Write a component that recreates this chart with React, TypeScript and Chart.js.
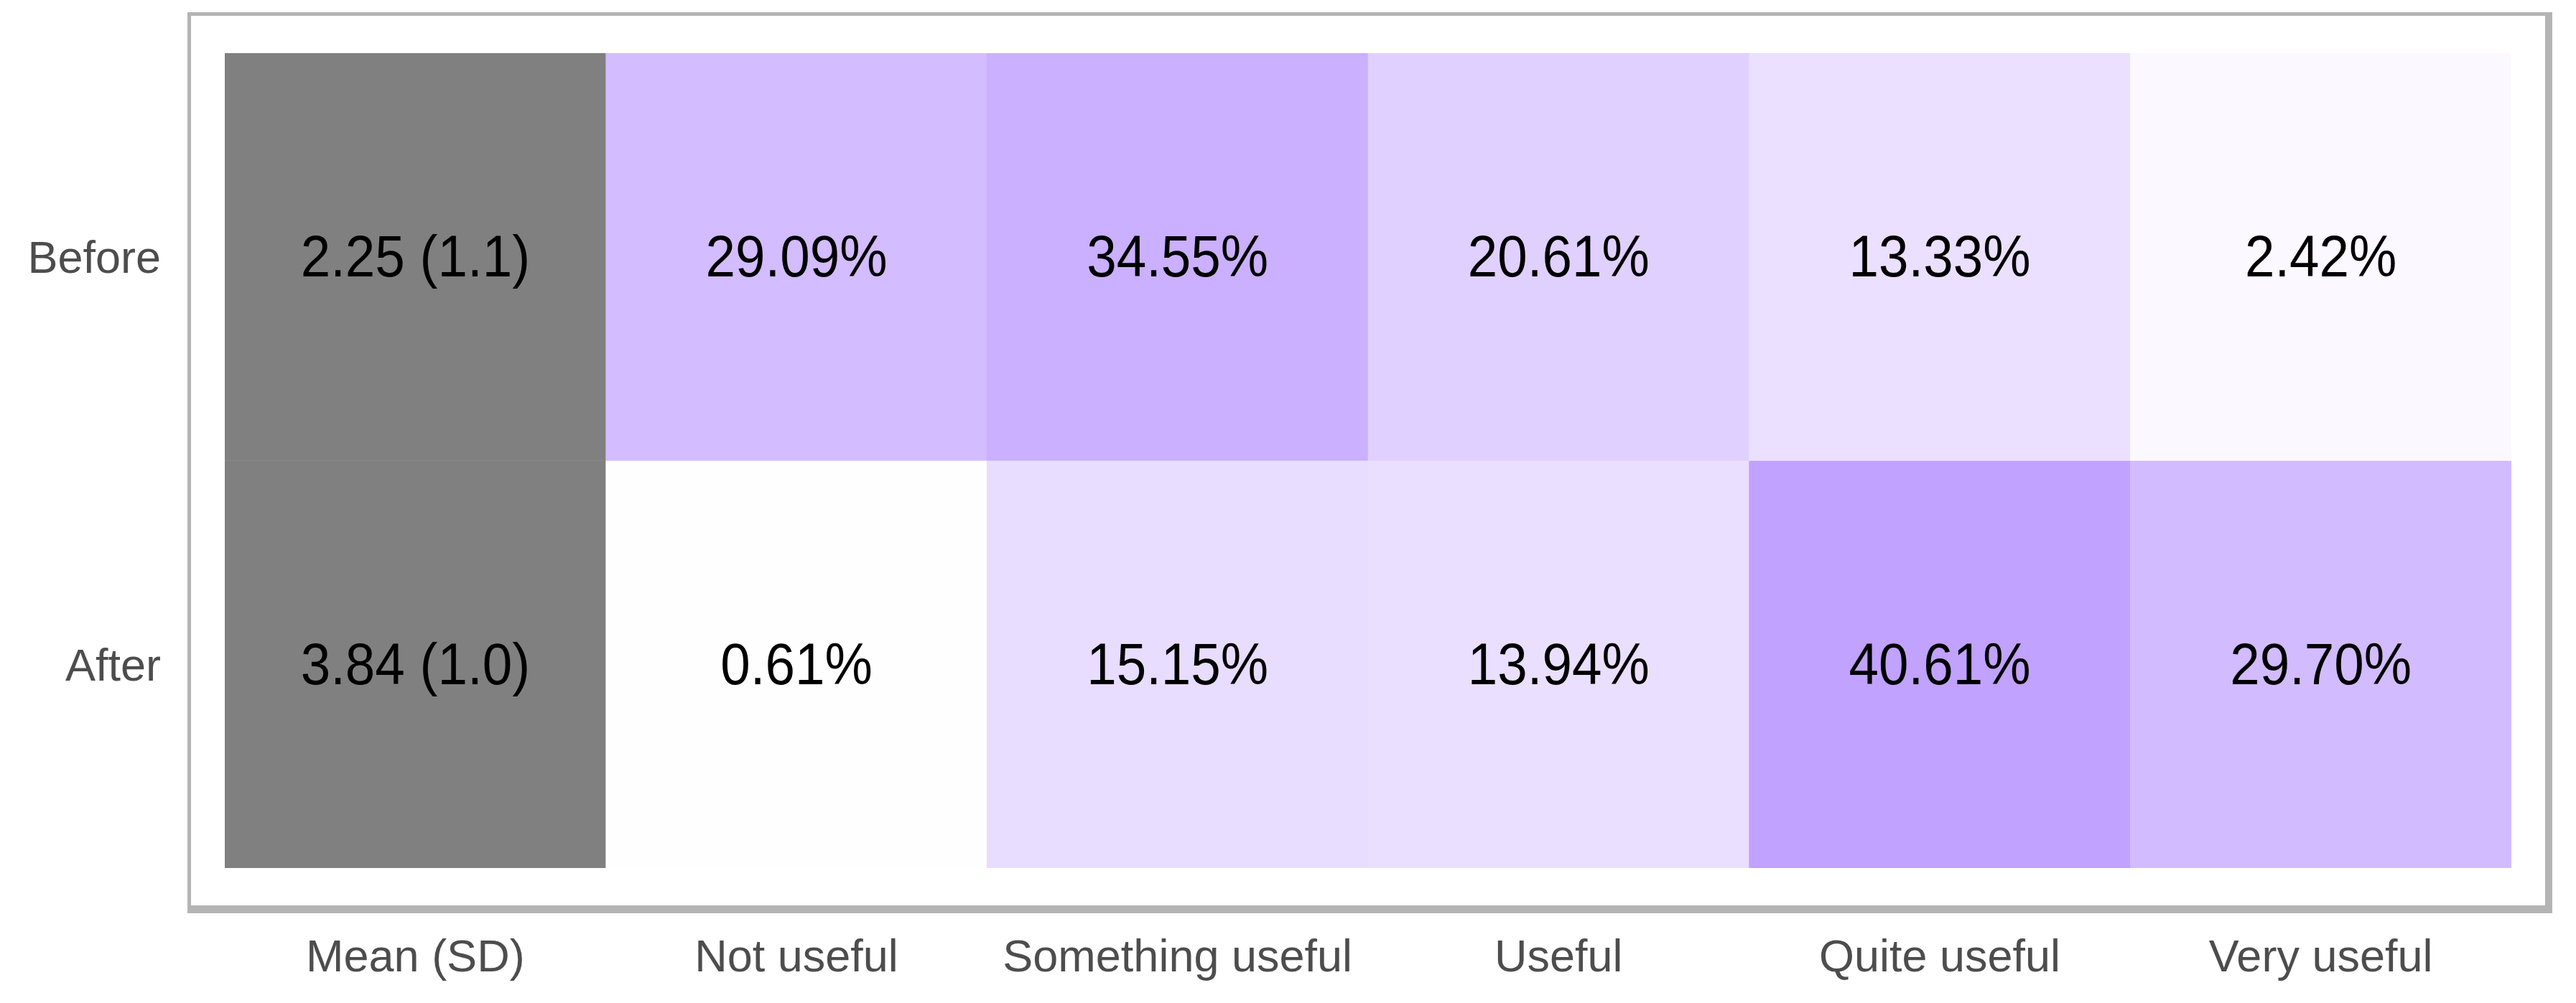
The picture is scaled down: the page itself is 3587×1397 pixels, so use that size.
import React, { useEffect, useRef } from "react";
import { Chart, registerables } from "chart.js";

Chart.register(...registerables);

// ---- Data ----
const categories = ["Mean (SD)", "Not useful", "Something useful", "Useful", "Quite useful", "Very useful"];
const rowLabels = ["Before", "After"];
const meanValues = [2.25, 3.84];
const sdValues = [1.1, 1.0];
const beforePercents = [29.09, 34.55, 20.61, 13.33, 2.42];
const afterPercents = [0.61, 15.15, 13.94, 40.61, 29.7];
// vertical band of each row on the value axis
const rowSpans: [number, number][] = [
  [1, 2],
  [0, 1],
];

// ---- Styles ----
const FONT = '"Liberation Sans", Arial, Helvetica, sans-serif';
const MEAN_COLOR = "#808080";
const LOW_RGB = [255, 255, 255];
const HIGH_RGB = [193, 162, 255];
const BORDER_COLOR = "#b4b4b4";

const percentRows = [beforePercents, afterPercents];
const maxPercent = Math.max(...beforePercents, ...afterPercents);

function colorFor(v: number): string {
  const t = Math.max(0, Math.min(1, v / maxPercent));
  const c = LOW_RGB.map((lo, i) => Math.round(lo + (HIGH_RGB[i] - lo) * t));
  return `rgb(${c[0]},${c[1]},${c[2]})`;
}

function cellText(row: number, col: number): string {
  if (col === 0) return `${meanValues[row].toFixed(2)} (${sdValues[row].toFixed(1)})`;
  return `${percentRows[row][col - 1].toFixed(2)}%`;
}

const frameBoxPlugin = {
  id: "frameBox",
  beforeDraw(chart: any) {
    const { ctx, chartArea } = chart;
    const { left, right, top, bottom } = chartArea;
    ctx.save();
    ctx.fillStyle = BORDER_COLOR;
    ctx.fillRect(left - 52, top - 57, right - left + 109, bottom - top + 120);
    ctx.fillStyle = "#ffffff";
    ctx.fillRect(left - 47, top - 52, right - left + 94, bottom - top + 104);
    ctx.restore();
  },
};

const cellLabelPlugin = {
  id: "cellLabels",
  afterDatasetsDraw(chart: any) {
    const { ctx } = chart;
    ctx.save();
    ctx.fillStyle = "#000000";
    ctx.font = `82px ${FONT}`;
    ctx.textAlign = "center";
    ctx.textBaseline = "middle";
    chart.data.datasets.forEach((_ds: any, d: number) => {
      const meta = chart.getDatasetMeta(d);
      meta.data.forEach((el: any, i: number) => {
        const { x, y, base } = el.getProps(["x", "y", "base"], true);
        const cy = (y + base) / 2 + 5;
        ctx.save();
        ctx.translate(x, cy);
        ctx.scale(0.91, 1);
        ctx.fillText(cellText(d, i), 0, 0);
        ctx.restore();
      });
    });
    ctx.restore();
  },
};

export default function App() {
  const canvasRef = useRef<HTMLCanvasElement | null>(null);

  useEffect(() => {
    if (!canvasRef.current) return;
    const datasets = rowLabels.map((label, r) => ({
      label,
      data: categories.map(() => rowSpans[r]),
      backgroundColor: [MEAN_COLOR, ...percentRows[r].map(colorFor)],
      borderWidth: 0,
      barPercentage: 1,
      categoryPercentage: 1,
      grouped: false,
    }));

    const chart = new Chart(canvasRef.current, {
      type: "bar",
      data: { labels: categories, datasets: datasets as any },
      options: {
        responsive: false,
        animation: false,
        devicePixelRatio: 1,
        layout: { padding: { top: 74, right: 90, left: 0, bottom: 0 } },
        plugins: {
          legend: { display: false },
          tooltip: { enabled: false },
        },
        scales: {
          x: {
            type: "category",
            grid: { display: false, drawTicks: false },
            border: { display: false },
            ticks: {
              font: { family: FONT, size: 63 },
              color: "#4d4d4d",
              padding: 89,
              maxRotation: 0,
              autoSkip: false,
            },
            afterFit: (s: any) => {
              s.height = 188;
              s.paddingLeft = 0;
              s.paddingRight = 0;
            },
          },
          y: {
            type: "linear",
            min: 0,
            max: 2,
            grid: { display: false, drawTicks: false },
            border: { display: false },
            afterBuildTicks: (s: any) => {
              s.ticks = rowSpans.map(([lo, hi]) => ({ value: (lo + hi) / 2 }));
            },
            ticks: {
              font: { family: FONT, size: 63 },
              color: "#4d4d4d",
              padding: 89,
              labelOffset: 5,
              callback: (v: any) => {
                const idx = rowSpans.findIndex(([lo, hi]) => (lo + hi) / 2 === Number(v));
                return idx >= 0 ? rowLabels[idx] : "";
              },
            },
            afterFit: (s: any) => {
              s.width = 313;
              s.paddingTop = 0;
              s.paddingBottom = 0;
            },
          },
        },
      } as any,
      plugins: [frameBoxPlugin, cellLabelPlugin],
    });
    return () => chart.destroy();
  }, []);

  return (
    <div style={{ position: "absolute", left: 0, top: 0, width: 3587, height: 1397, background: "#ffffff" }}>
      <canvas ref={canvasRef} width={3587} height={1397} style={{ display: "block" }} />
    </div>
  );
}
